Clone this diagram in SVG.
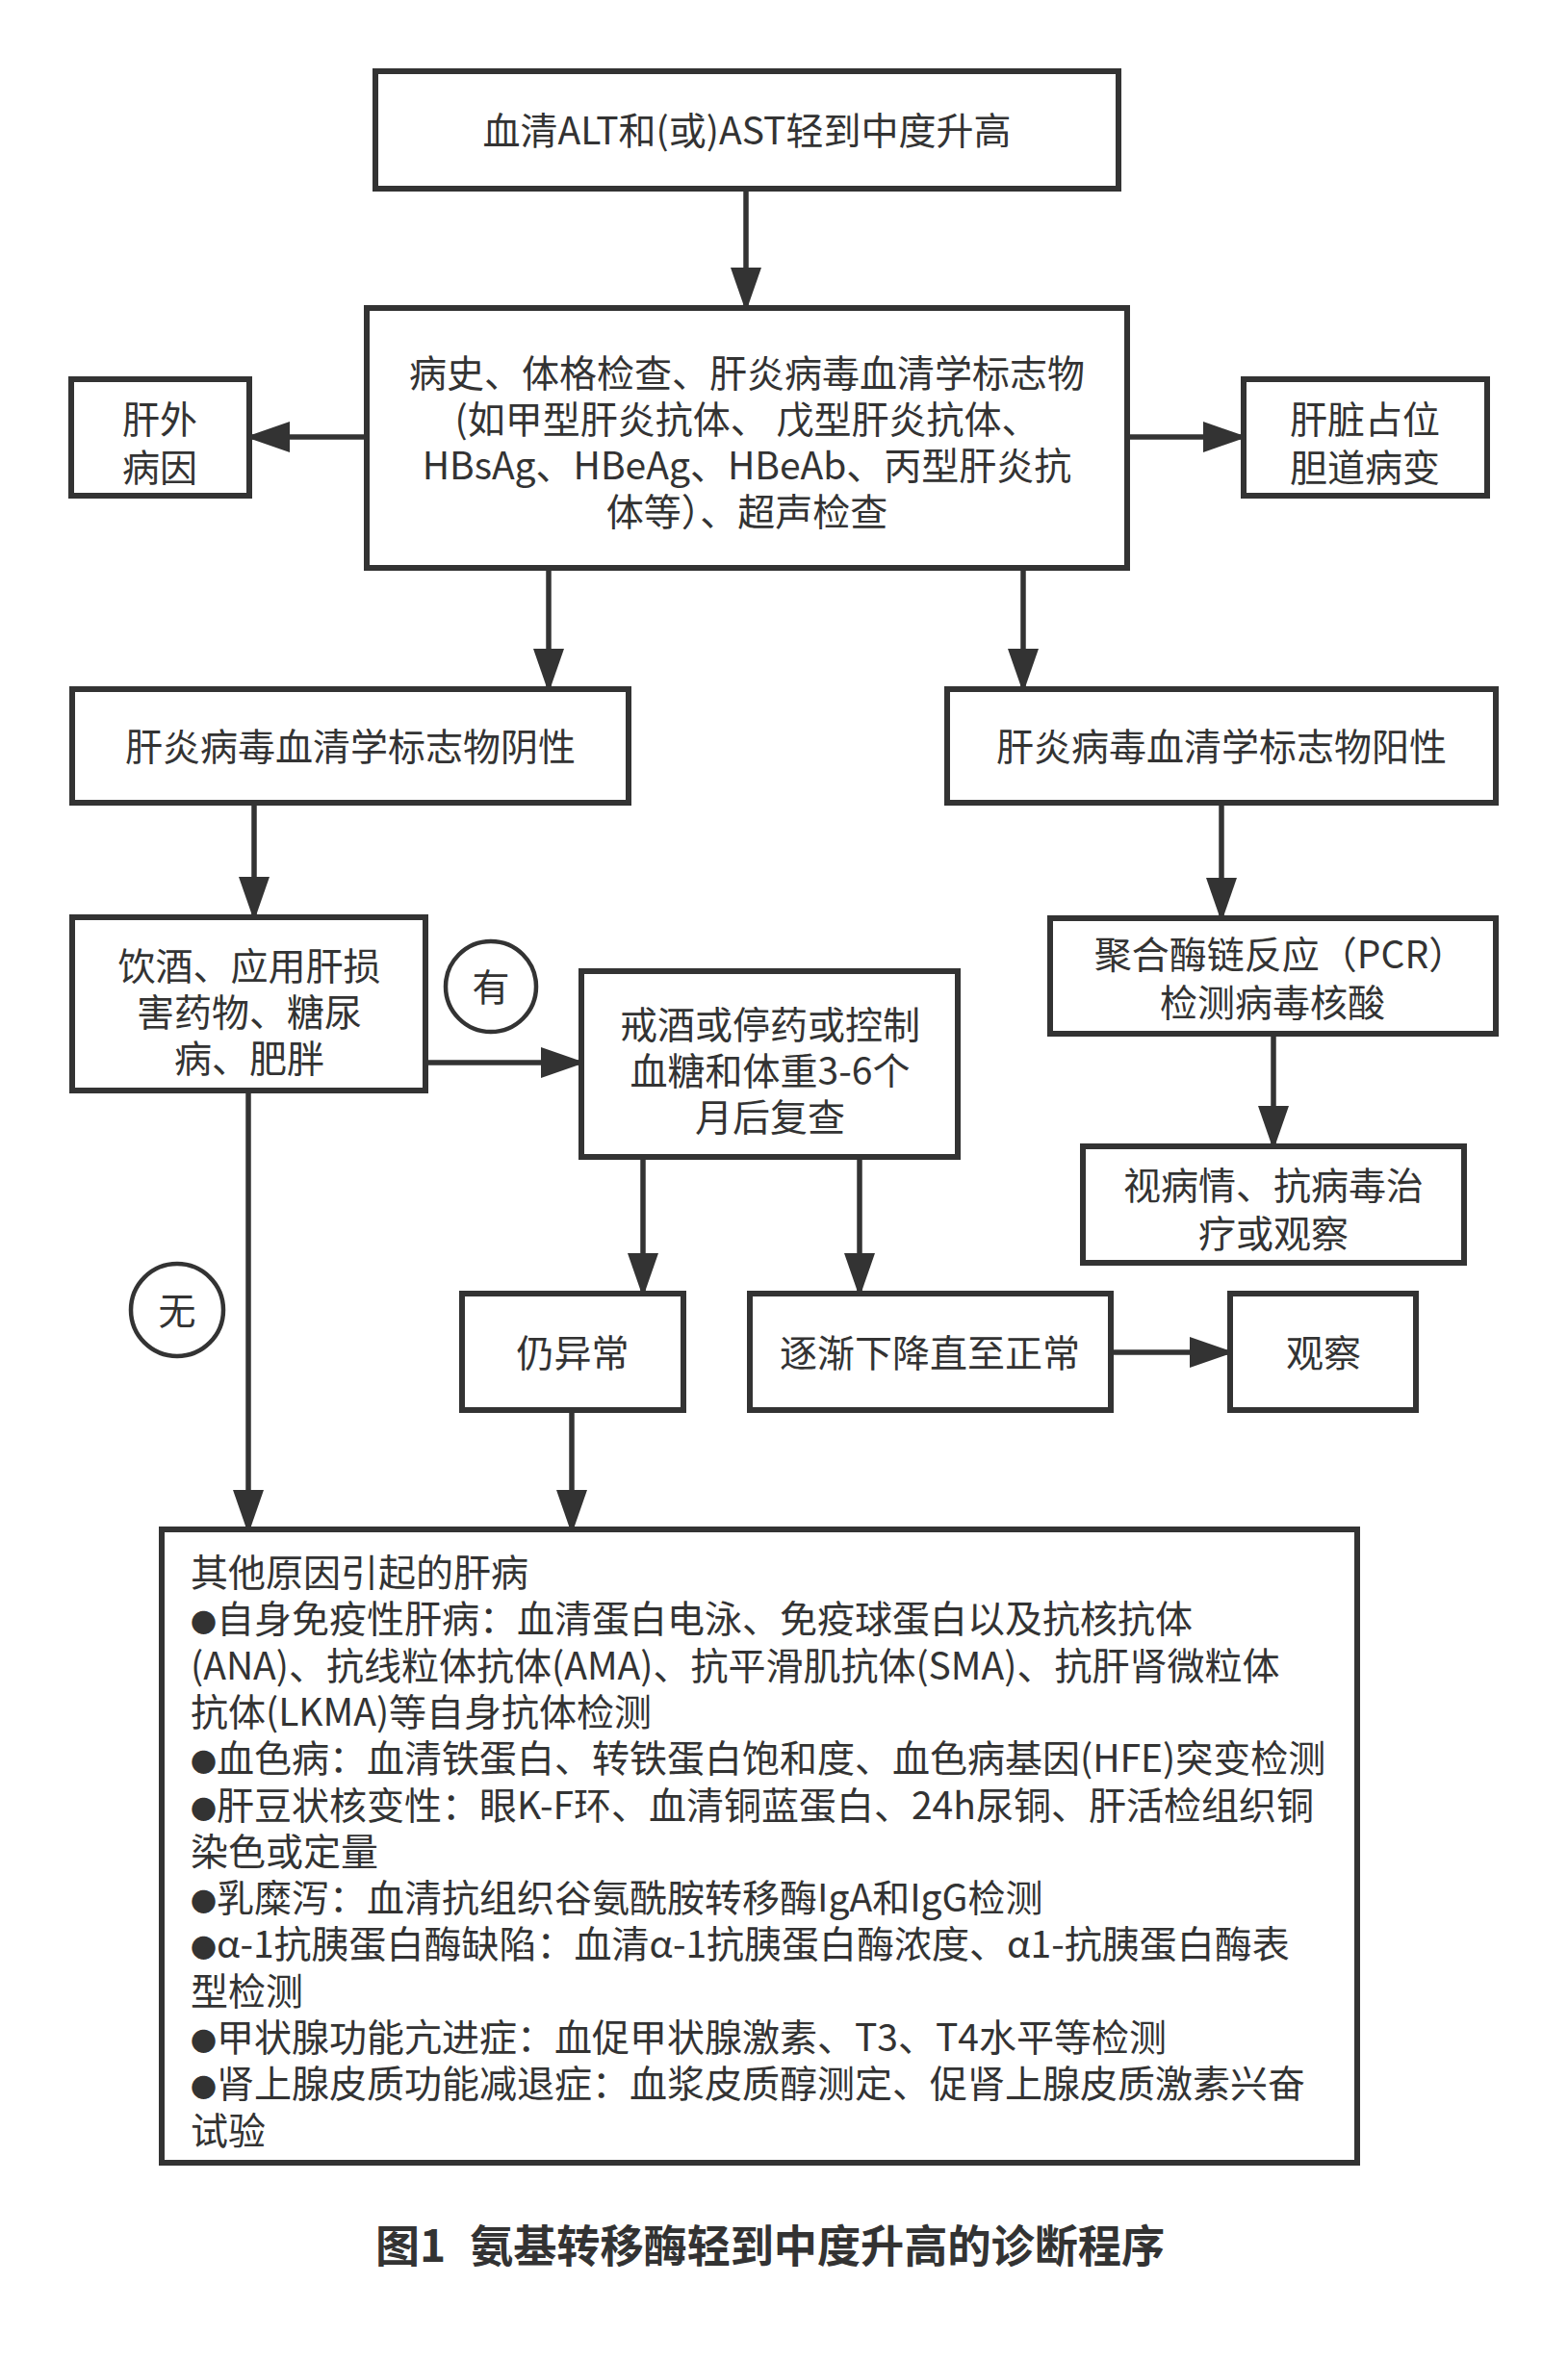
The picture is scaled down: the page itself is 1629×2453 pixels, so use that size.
<svg xmlns="http://www.w3.org/2000/svg" width="1629" height="2453" viewBox="0 0 1629 2453">
<defs>
<style>
.box{fill:#fff;stroke:#333;stroke-width:6}
.circ{fill:#fff;stroke:#333;stroke-width:4.5}
.t{font-family:"Noto Sans CJK SC","Microsoft YaHei",sans-serif;font-size:39px;fill:#333}
.c{text-anchor:middle}
.b{font-size:27px}
.ln{stroke:#333;stroke-width:5.5;fill:none;marker-end:url(#ah)}
.cap{font-family:"Noto Sans CJK SC",sans-serif;font-size:46px;font-weight:bold;fill:#333}
</style>
<marker id="ah" markerUnits="userSpaceOnUse" markerWidth="46" markerHeight="32" refX="44" refY="16" orient="auto" viewBox="0 0 46 32">
<path d="M0,0 L46,16 L0,32 z" fill="#333"/>
</marker>
</defs>
<rect width="1629" height="2453" fill="#fff"/>
<g id="connectors">
<line class="ln" x1="775" y1="196" x2="775" y2="322"/>
<line class="ln" x1="381" y1="454" x2="257" y2="454"/>
<line class="ln" x1="1171" y1="454" x2="1294" y2="454"/>
<line class="ln" x1="570" y1="590" x2="570" y2="718"/>
<line class="ln" x1="1063" y1="590" x2="1063" y2="718"/>
<line class="ln" x1="264" y1="834" x2="264" y2="955"/>
<line class="ln" x1="1269" y1="834" x2="1269" y2="956"/>
<line class="ln" x1="442" y1="1104" x2="606" y2="1104"/>
<line class="ln" x1="1323" y1="1074" x2="1323" y2="1193"/>
<line class="ln" x1="668" y1="1202" x2="668" y2="1346"/>
<line class="ln" x1="893" y1="1202" x2="893" y2="1346"/>
<line class="ln" x1="1154" y1="1405" x2="1280" y2="1405"/>
<line class="ln" x1="258" y1="1133" x2="258" y2="1592"/>
<line class="ln" x1="594" y1="1465" x2="594" y2="1592"/>
</g>
<g id="n1"><rect class="box" x="390" y="74" width="772" height="122"/>
<text class="t c" x="776" y="150">血清ALT和(或)AST轻到中度升高</text></g>
<g id="n2"><rect class="box" x="381" y="320" width="790" height="270"/>
<text class="t c" x="776" y="402">病史、体格检查、肝炎病毒血清学标志物</text>
<text class="t c" x="776" y="450">(如甲型肝炎抗体、 戊型肝炎抗体、</text>
<text class="t c" x="776" y="498">HBsAg、HBeAg、HBeAb、丙型肝炎抗</text>
<text class="t c" x="776" y="546">体等）、超声检查</text></g>
<g id="n3"><rect class="box" x="74" y="394" width="185" height="121"/>
<text class="t c" x="166" y="450">肝外</text>
<text class="t c" x="166" y="500">病因</text></g>
<g id="n4"><rect class="box" x="1292" y="394" width="253" height="121"/>
<text class="t c" x="1418" y="450">肝脏占位</text>
<text class="t c" x="1418" y="500">胆道病变</text></g>
<g id="n5"><rect class="box" x="75" y="716" width="578" height="118"/>
<text class="t c" x="364" y="790">肝炎病毒血清学标志物阴性</text></g>
<g id="n6"><rect class="box" x="984" y="716" width="570" height="118"/>
<text class="t c" x="1269" y="790">肝炎病毒血清学标志物阳性</text></g>
<g id="n7"><rect class="box" x="75" y="953" width="367" height="180"/>
<text class="t c" x="259" y="1018">饮酒、应用肝损</text>
<text class="t c" x="259" y="1066">害药物、糖尿</text>
<text class="t c" x="259" y="1114">病、肥胖</text></g>
<g id="n8"><circle class="circ" cx="510" cy="1025" r="47"/>
<text class="t c" x="510" y="1040">有</text></g>
<g id="n9"><rect class="box" x="604" y="1009" width="391" height="193"/>
<text class="t c" x="800" y="1079">戒酒或停药或控制</text>
<text class="t c" x="800" y="1127">血糖和体重3-6个</text>
<text class="t c" x="800" y="1175">月后复查</text></g>
<g id="n10"><rect class="box" x="1091" y="954" width="463" height="120"/>
<text class="t c" x="1330" y="1006">聚合酶链反应（PCR）</text>
<text class="t c" x="1322" y="1056">检测病毒核酸</text></g>
<g id="n11"><rect class="box" x="1125" y="1191" width="396" height="121"/>
<text class="t c" x="1323" y="1246">视病情、抗病毒治</text>
<text class="t c" x="1323" y="1296">疗或观察</text></g>
<g id="n12"><circle class="circ" cx="184" cy="1361" r="48"/>
<text class="t c" x="184" y="1376">无</text></g>
<g id="n13"><rect class="box" x="480" y="1344" width="230" height="121"/>
<text class="t c" x="595" y="1420">仍异常</text></g>
<g id="n14"><rect class="box" x="779" y="1344" width="375" height="121"/>
<text class="t c" x="966" y="1420">逐渐下降直至正常</text></g>
<g id="n15"><rect class="box" x="1278" y="1344" width="193" height="121"/>
<text class="t c" x="1375" y="1420">观察</text></g>
<g id="n16"><rect class="box" x="168" y="1589" width="1242" height="658"/>
<text class="t" x="198" y="1648">其他原因引起的肝病</text>
<text class="t" x="198" y="1696"><tspan class="b">●</tspan>自身免疫性肝病：血清蛋白电泳、免疫球蛋白以及抗核抗体</text>
<text class="t" x="198" y="1745">(ANA)、抗线粒体抗体(AMA)、抗平滑肌抗体(SMA)、抗肝肾微粒体</text>
<text class="t" x="198" y="1793">抗体(LKMA)等自身抗体检测</text>
<text class="t" x="198" y="1841"><tspan class="b">●</tspan>血色病：血清铁蛋白、转铁蛋白饱和度、血色病基因(HFE)突变检测</text>
<text class="t" x="198" y="1890"><tspan class="b">●</tspan>肝豆状核变性：眼K-F环、血清铜蓝蛋白、24h尿铜、肝活检组织铜</text>
<text class="t" x="198" y="1938">染色或定量</text>
<text class="t" x="198" y="1986"><tspan class="b">●</tspan>乳糜泻：血清抗组织谷氨酰胺转移酶IgA和IgG检测</text>
<text class="t" x="198" y="2034"><tspan class="b">●</tspan>α-1抗胰蛋白酶缺陷：血清α-1抗胰蛋白酶浓度、α1-抗胰蛋白酶表</text>
<text class="t" x="198" y="2083">型检测</text>
<text class="t" x="198" y="2131"><tspan class="b">●</tspan>甲状腺功能亢进症：血促甲状腺激素、T3、T4水平等检测</text>
<text class="t" x="198" y="2179"><tspan class="b">●</tspan>肾上腺皮质功能减退症：血浆皮质醇测定、促肾上腺皮质激素兴奋</text>
<text class="t" x="198" y="2228">试验</text></g>
<g id="caption">
<text class="cap" x="390" y="2350">图1</text>
<text class="cap" x="488" y="2350" textLength="722" lengthAdjust="spacingAndGlyphs">氨基转移酶轻到中度升高的诊断程序</text>
</g>
</svg>
